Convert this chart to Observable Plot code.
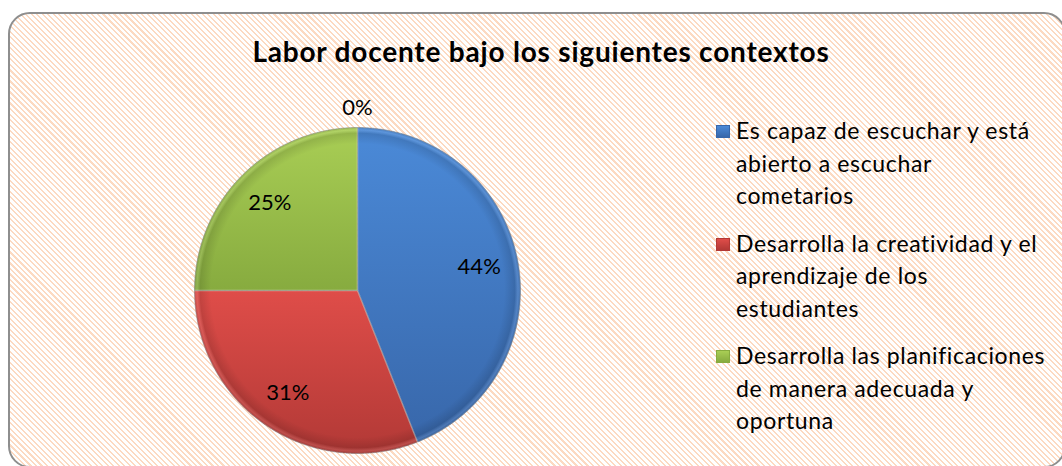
<!DOCTYPE html>
<html><head><meta charset="utf-8">
<script src="https://cdn.jsdelivr.net/npm/d3@7"></script>
<script src="https://cdn.jsdelivr.net/npm/@observablehq/plot@0.6"></script>
<style>
html,body{margin:0;padding:0;background:#fff;width:1062px;height:466px;overflow:hidden;font-family:Lato,"Open Sans",sans-serif;color:#000}
#frame{position:absolute;left:8px;top:12px;width:1058px;height:456px;box-sizing:border-box;border:2px solid #8e8e8e;border-radius:22px;
 background:repeating-linear-gradient(45deg,#ffffff 0px,#ffffff 2.4px,#fcdac2 2.4px,#fcdac2 3.9px);}
#title{position:absolute;left:0;top:35px;width:1082px;text-align:center;font-weight:700;font-size:28px;letter-spacing:0.8px;white-space:nowrap;line-height:1.2}
#pie{position:absolute;left:157px;top:90px}
#legend{position:absolute;left:716px;top:114px;width:346px}
.item{position:relative;padding-left:20px;margin-bottom:15px;font-size:23px;letter-spacing:0.65px;line-height:32.5px;white-space:nowrap}
.sw{position:absolute;left:0;top:11px;width:14px;height:13px;box-sizing:border-box}
</style></head>
<body>
<div id="frame"></div>
<div id="title"></div>
<div id="pie"></div>
<div id="legend"></div>
<script>
const title = "Labor docente bajo los siguientes contextos";
const categories = [
  "Es capaz de escuchar y está abierto a escuchar cometarios",
  "Desarrolla la creatividad y el aprendizaje de los estudiantes",
  "Desarrolla las planificaciones de manera adecuada y oportuna",
  "Sin respuesta"
];
const legendLines = [
  ["Es capaz de escuchar y está", "abierto a escuchar", "cometarios"],
  ["Desarrolla la creatividad y el", "aprendizaje de los", "estudiantes"],
  ["Desarrolla las planificaciones", "de manera adecuada y", "oportuna"],
  []
];
const values = [44, 31, 25, 0];
const labels = ["44%", "31%", "25%", "0%"];
const colorsTop = ["#4b8ad8", "#df4d49", "#a9ce55", "#999999"];
const colorsBottom = ["#3867aa", "#b23936", "#87ab3f", "#777777"];
const inLegend = [true, true, true, false];

document.getElementById("title").textContent = title;

const arcs = d3.pie().sort(null).value(d => d)(values);
const slicePts = [];
arcs.forEach((a, i) => {
  if (a.endAngle - a.startAngle <= 0) return;
  const url = `url(#g${i})`;
  slicePts.push({key: i, x: 0, y: 0, fill: url});
  const n = Math.ceil((a.endAngle - a.startAngle) / 0.005);
  for (let k = 0; k <= n; k++) {
    const t = a.startAngle + (a.endAngle - a.startAngle) * k / n;
    slicePts.push({key: i, x: Math.sin(t), y: Math.cos(t), fill: url});
  }
  slicePts.push({key: i, x: 0, y: 0, fill: url});
});
const labelPts = arcs.map((a, i) => {
  const m = (a.startAngle + a.endAngle) / 2;
  const r = values[i] > 0 ? 0.76 : 1.12;
  return {x: r * Math.sin(m), y: r * Math.cos(m), text: labels[i]};
});

const chart = Plot.plot({
  width: 400, height: 380, margin: 0,
  x: {domain: [-1, 1], range: [37, 363], axis: null},
  y: {domain: [-1, 1], range: [363, 37], axis: null},
  color: {type: "identity"},
  style: {background: "transparent", overflow: "visible"},
  marks: [
    Plot.line(slicePts, {x: "x", y: "y", z: "key", fill: "fill", stroke: "rgba(30,30,30,0.35)", strokeWidth: 1, curve: "linear"}),
    Plot.line(slicePts, {x: "x", y: "y", z: "key", fill: "url(#shade)", stroke: "rgba(255,255,255,0.22)", strokeWidth: 1.5, curve: "linear"}),
    Plot.text(labelPts, {x: "x", y: "y", text: "text", fontSize: 22, fill: "#000", fontFamily: "Lato, 'Open Sans', sans-serif"})
  ]
});
let defs = "<defs>";
colorsTop.forEach((c, i) => {
  defs += `<linearGradient id="g${i}" x1="0" y1="0" x2="0" y2="1"><stop offset="0" stop-color="${c}"/><stop offset="1" stop-color="${colorsBottom[i]}"/></linearGradient>`;
});
defs += `<radialGradient id="shade" gradientUnits="userSpaceOnUse" cx="200" cy="200" r="163">
<stop offset="0" stop-color="#000" stop-opacity="0"/>
<stop offset="0.9" stop-color="#000" stop-opacity="0"/>
<stop offset="0.965" stop-color="#000" stop-opacity="0.12"/>
<stop offset="0.985" stop-color="#fff" stop-opacity="0.10"/>
<stop offset="1" stop-color="#000" stop-opacity="0.15"/></radialGradient>`;
defs += "</defs>";
chart.insertAdjacentHTML("afterbegin", defs);
document.getElementById("pie").appendChild(chart);

const legend = document.getElementById("legend");
categories.forEach((c, i) => {
  if (!inLegend[i]) return;
  const it = document.createElement("div");
  it.className = "item";
  it.title = c;
  const sw = document.createElement("div");
  sw.className = "sw";
  sw.style.background = `linear-gradient(${colorsTop[i]}, ${colorsBottom[i]})`;
  sw.style.border = `1px solid ${colorsBottom[i]}`;
  it.appendChild(sw);
  legendLines[i].forEach((line, j) => {
    if (j) it.appendChild(document.createElement("br"));
    it.appendChild(document.createTextNode(line));
  });
  legend.appendChild(it);
});
</script>
</body></html>
